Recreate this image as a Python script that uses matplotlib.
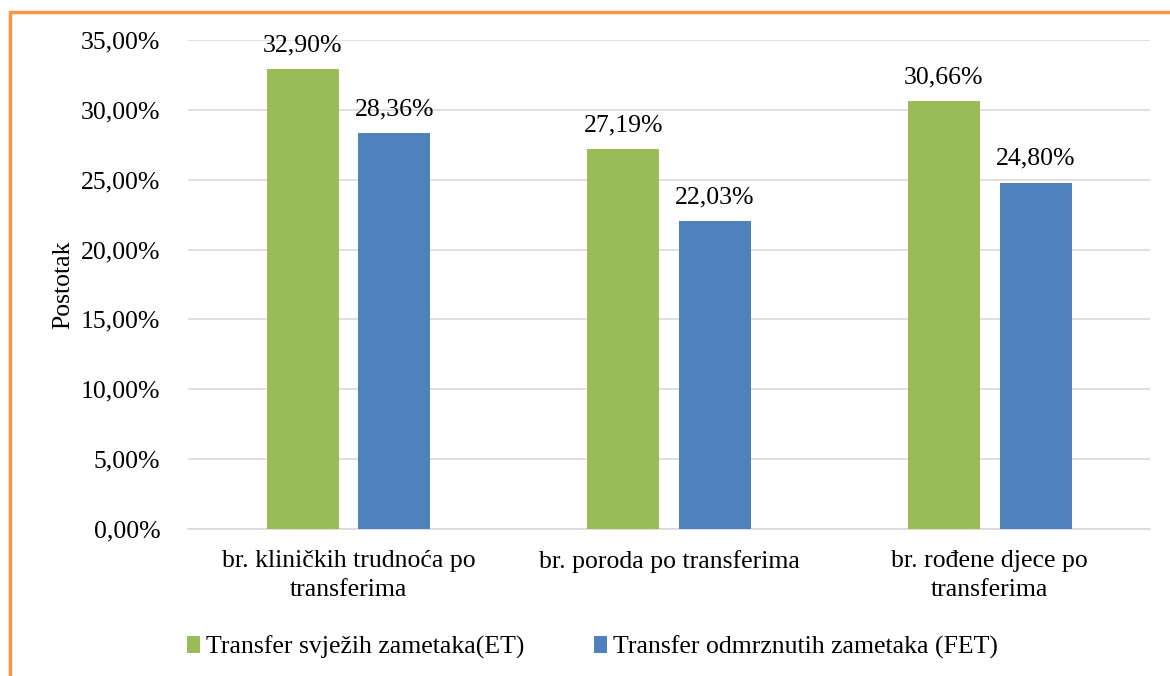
import matplotlib.pyplot as plt
import numpy as np
from matplotlib.patches import Rectangle
from matplotlib.ticker import FuncFormatter

categories = ['br. kliničkih trudnoća po\ntransferima',
              'br. poroda po transferima',
              'br. rođene djece po\ntransferima']
et_values = [32.90, 27.19, 30.66]
fet_values = [28.36, 22.03, 24.80]
series_names = ['Transfer svježih zametaka(ET)', 'Transfer odmrznutih zametaka (FET)']

plt.rcParams['font.family'] = ['Liberation Serif', 'DejaVu Serif']

fig = plt.figure(figsize=(11.7, 6.76), dpi=100)
ax = fig.add_axes([0.1607, 0.2175, 0.8223, 0.7233])

x = np.arange(len(categories))
w = 0.2245
off = 0.143
b1 = ax.bar(x - off, et_values, w, color='#9BBB59', label=series_names[0], zorder=3)
b2 = ax.bar(x + off, fet_values, w, color='#4F81BD', label=series_names[1], zorder=3)

for bars, vals in [(b1, et_values), (b2, fet_values)]:
    for b, v in zip(bars, vals):
        ax.text(b.get_x() + b.get_width() / 2, v + 0.9, f'{v:.2f}%'.replace('.', ','),
                ha='center', va='bottom', fontsize=18.5)

ax.set_xlim(-0.5, 2.5)
ax.set_ylim(0, 35)
ax.set_yticks(np.arange(0, 36, 5))
ax.yaxis.set_major_formatter(FuncFormatter(lambda v, p: f'{v:.2f}%'.replace('.', ',')))
ax.set_xticks(x)
ax.set_xticklabels(categories, fontsize=18.5, linespacing=1.4)
ax.tick_params(axis='y', labelsize=18.5, length=0, pad=20)
ax.tick_params(axis='x', length=0, pad=15)
ax.yaxis.grid(True, color='#D9D9D9', linewidth=1.2, zorder=0)
for s in ['top', 'right', 'left']:
    ax.spines[s].set_visible(False)
ax.spines['bottom'].set_color('#D9D9D9')
ax.spines['bottom'].set_linewidth(1.2)
ax.set_ylabel('Postotak', fontsize=18.5)
ax.yaxis.set_label_coords(-0.118, 0.5)

fig.legend(handles=[b1, b2], loc='center left', bbox_to_anchor=(0.140, 0.043),
           ncol=2, frameon=False, fontsize=18.5, handlelength=0.5, handleheight=0.65,
           handletextpad=0.25, columnspacing=2.7)

# orange frame around the chart
fig.patches.append(Rectangle((9.5 / 1170, -0.1), 1.2, 1 - 12 / 676 + 0.1,
                             transform=fig.transFigure, fill=False,
                             edgecolor='#F79646', linewidth=2.5))

fig.savefig('out.png', dpi=100)
